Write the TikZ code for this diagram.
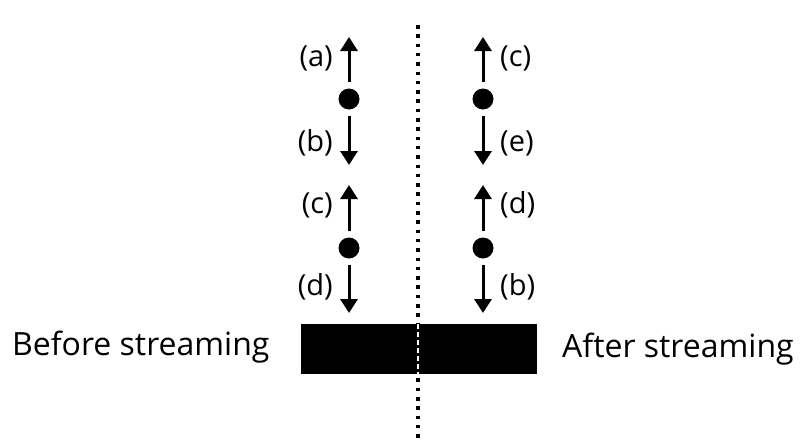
\documentclass[tikz,border=0pt]{standalone}
\usepackage{fontspec}
\setmainfont{Open Sans}
\usetikzlibrary{arrows.meta}
\tikzset{
  dotnode/.style={circle,fill=black,inner sep=0pt,minimum size=21pt},
  arr/.style={line width=3pt,-{Triangle[width=17pt,length=14pt]},shorten <=6pt},
  lbl/.style={font=\fontsize{29}{32}\selectfont,inner sep=0pt},
  caption/.style={font=\fontsize{32}{36}\selectfont,inner sep=0pt,anchor=base west},
  sep/.style={line width=3.5pt,dash pattern=on 3.5pt off 5.8pt}
}
\begin{document}
\begin{tikzpicture}[x=1pt,y=-1pt]
\useasboundingbox (0,0) rectangle (807,445);
% separator
\coordinate (st) at (418,25);
\coordinate (sb) at (418,442);
\draw[sep] (st) -- (sb);
% block
\node[fill=black,minimum width=236pt,minimum height=50pt,inner sep=0pt,anchor=north west] (blk) at (301,324) {};
\coordinate (bt) at (418,324);
\coordinate (bb) at (418,374);
\draw[white,line width=1.2pt,dash pattern=on 5pt off 3pt] (bt) -- (bb);
% dots
\node[dotnode] (l1) at (349,99) {};
\node[dotnode] (l2) at (349,248) {};
\node[dotnode] (r1) at (483,99) {};
\node[dotnode] (r2) at (483,248) {};
% tips
\coordinate (l1u) at (349,37);
\coordinate (l1d) at (349,165);
\coordinate (l2u) at (349,185);
\coordinate (l2d) at (349,313);
\coordinate (r1u) at (483,37);
\coordinate (r1d) at (483,165);
\coordinate (r2u) at (483,185);
\coordinate (r2d) at (483,313);
\draw[arr] (l1.north) -- (l1u);
\draw[arr] (l1.south) -- (l1d);
\draw[arr] (l2.north) -- (l2u);
\draw[arr] (l2.south) -- (l2d);
\draw[arr] (r1.north) -- (r1u);
\draw[arr] (r1.south) -- (r1d);
\draw[arr] (r2.north) -- (r2u);
\draw[arr] (r2.south) -- (r2d);
% labels
\node[lbl,anchor=east] (la) at (333,58) {(a)};
\node[lbl,anchor=east] (lb) at (333,143) {(b)};
\node[lbl,anchor=east] (lc) at (333,205) {(c)};
\node[lbl,anchor=east] (ld) at (333,287) {(d)};
\node[lbl,anchor=west] (rc) at (500,58) {(c)};
\node[lbl,anchor=west] (re) at (500,143) {(e)};
\node[lbl,anchor=west] (rd) at (500,205) {(d)};
\node[lbl,anchor=west] (rb) at (500,287) {(b)};
% captions
\node[caption] (before) at (12,355) {Before streaming};
\node[caption] (after) at (562,357) {After streaming};
\end{tikzpicture}
\end{document}
